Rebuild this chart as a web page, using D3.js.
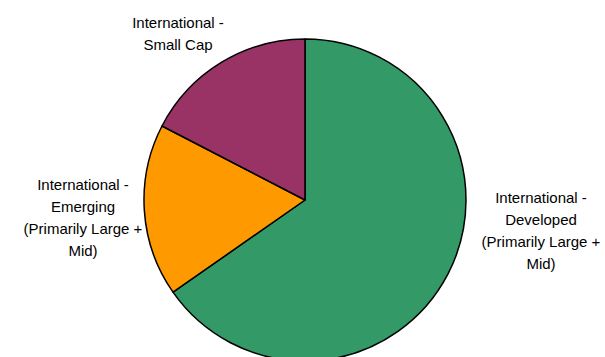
<!DOCTYPE html>
<html>
<head>
<meta charset="utf-8">
<script src="https://cdn.jsdelivr.net/npm/d3@7"></script>
<style>
  html, body { margin: 0; padding: 0; background: #fff; }
  svg { display: block; }
  text { font-family: "Liberation Sans", Arial, sans-serif; font-size: 15px; fill: #000; }
</style>
</head>
<body>
<svg id="chart" width="605" height="357"></svg>
<script>
// Allocation shares (%) by category, in clockwise order from 12 o'clock
const categories = ["International - Developed (Primarily Large + Mid)",
                    "International - Emerging (Primarily Large + Mid)",
                    "International - Small Cap"];
const values = [65.3, 17.3, 17.4];
const colors = ["#339966", "#FF9900", "#993366"];
// Label lines as drawn beside each slice
const labelLines = [
  ["International -", "Developed", "(Primarily Large +", "Mid)"],
  ["International -", "Emerging", "(Primarily Large +", "Mid)"],
  ["International -", "Small Cap"]
];
const labelPos = [[541, 203], [83, 190], [178, 28]];

const svg = d3.select("#chart");
const cx = 305, cy = 200, r = 161;

const pie = d3.pie().sort(null).value(d => d)(values);
const arc = d3.arc().innerRadius(0).outerRadius(r);

const g = svg.append("g").attr("transform", `translate(${cx},${cy})`);
g.selectAll("path")
  .data(pie)
  .join("path")
  .attr("d", arc)
  .attr("fill", (d, i) => colors[i])
  .attr("stroke", "#000")
  .attr("stroke-width", 1.5)
  .attr("stroke-linejoin", "round");

const lineH = 22;
labelLines.forEach((lines, i) => {
  const t = svg.append("text")
    .attr("text-anchor", "middle")
    .attr("x", labelPos[i][0])
    .attr("y", labelPos[i][1]);
  lines.forEach((s, j) => {
    t.append("tspan")
      .attr("x", labelPos[i][0])
      .attr("y", labelPos[i][1] + j * lineH)
      .text(s);
  });
});
</script>
</body>
</html>
